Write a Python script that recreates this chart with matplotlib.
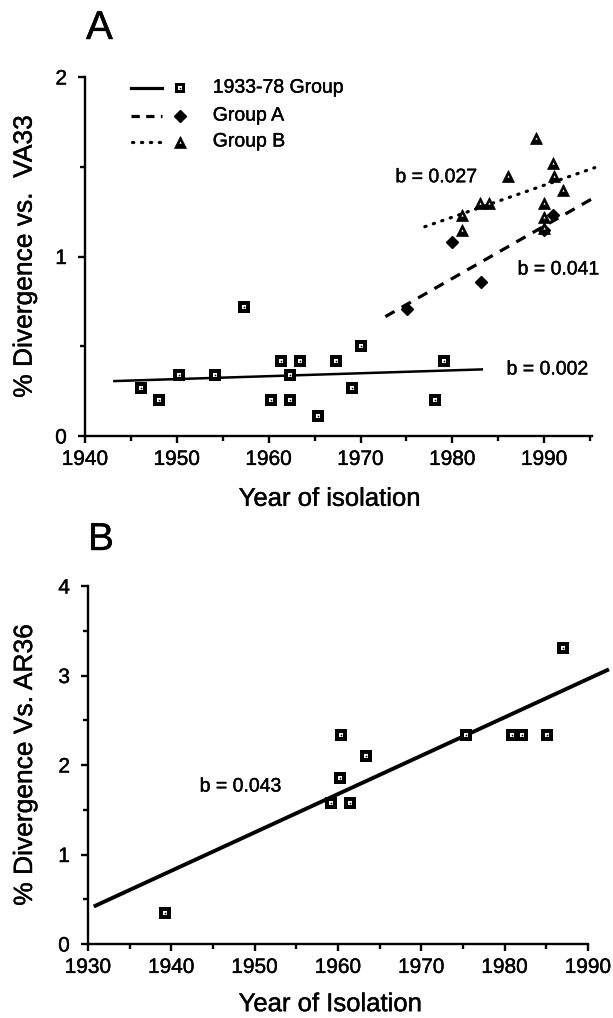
import matplotlib

matplotlib.use("Agg")
import matplotlib.pyplot as plt
import matplotlib.patheffects as pe
from matplotlib.ticker import MultipleLocator

# ---- panel A data ----
old_years = [1946.1, 1948.1, 1950.2, 1954.2, 1957.3, 1960.3, 1961.3, 1962.3, 1962.3,
             1963.4, 1965.4, 1967.3, 1969.1, 1970.1, 1978.1, 1979.1]
old_div = [0.27, 0.20, 0.34, 0.34, 0.72, 0.20, 0.42, 0.34, 0.20,
           0.42, 0.11, 0.42, 0.27, 0.50, 0.20, 0.42]
grpa_years = [1975.1, 1980.0, 1983.1, 1990.0, 1991.0]
grpa_div = [0.71, 1.08, 0.86, 1.15, 1.23]
grpb_years = [1981.1, 1981.1, 1983.0, 1984.0, 1986.0, 1989.1, 1990.0, 1990.0, 1990.0,
              1991.0, 1991.1, 1992.0]
grpb_div = [1.15, 1.23, 1.30, 1.30, 1.45, 1.66, 1.16, 1.22, 1.30, 1.52, 1.45, 1.37]

# fitted lines (end points)
fit_old_x, fit_old_y = [1943.2, 1983.2], [0.306, 0.371]
fit_a_x, fit_a_y = [1972.7, 1995.6], [0.665, 1.333]
fit_b_x, fit_b_y = [1977.0, 1995.5], [1.166, 1.495]

# ---- panel B data ----
ar_years = [1939.2, 1959.1, 1960.2, 1960.3, 1961.4, 1963.3, 1975.3, 1980.9, 1982.1,
            1985.1, 1987.0]
ar_div = [0.35, 1.58, 1.85, 2.33, 1.58, 2.10, 2.33, 2.33, 2.33, 2.33, 3.31]
fit_ar_x, fit_ar_y = [1930.9, 1992.3], [0.428, 3.06]

plt.rcParams["font.family"] = ["Liberation Sans", "DejaVu Sans"]
HEAVY = [pe.withStroke(linewidth=0.3, foreground="black")]

W, H = 613, 1018
fig = plt.figure(figsize=(W / 100, H / 100), dpi=100)


def box(x0, y0, x1, y1):
    # pixel box (top-left origin) -> figure fraction
    return [x0 / W, 1 - y1 / H, (x1 - x0) / W, (y1 - y0) / H]


def style_axes(ax):
    for s in ("top", "right"):
        ax.spines[s].set_visible(False)
    for s in ("left", "bottom"):
        ax.spines[s].set_linewidth(1.7)
    ax.tick_params(which="major", length=5, width=1.7, direction="out", labelsize=15)
    ax.tick_params(axis="x", which="major", pad=5)
    ax.tick_params(axis="y", which="major", pad=8)
    ax.tick_params(which="minor", length=3.5, width=1.7, direction="out")
    ax.xaxis.set_major_locator(MultipleLocator(10))
    ax.xaxis.set_minor_locator(MultipleLocator(5))
    ax.yaxis.set_major_locator(MultipleLocator(1))
    ax.yaxis.set_minor_locator(MultipleLocator(0.5))
    for lab in ax.get_xticklabels() + ax.get_yticklabels():
        lab.set_path_effects(HEAVY)


def squares(ax, x, y, ms, **kw):
    # black square, white ring, black centre
    ax.plot(x, y, ls="none", marker="s", ms=ms, mfc="black", mec="black", mew=0, zorder=4, **kw)
    ax.plot(x, y, ls="none", marker="s", ms=ms * 0.4, mfc="white", mec="white", mew=0, zorder=5, **kw)
    ax.plot(x, y, ls="none", marker="s", ms=ms * 0.14, mfc="black", mec="black", mew=0, zorder=6, **kw)


def triangles(ax, x, y, ms, **kw):
    ax.plot(x, y, ls="none", marker="^", ms=ms, mfc="black", mec="black", mew=0.5, zorder=4, **kw)
    ax.plot(x, y, ls="none", marker="^", ms=ms * 0.18, mfc="white", mec="white", mew=0, zorder=5, **kw)


DASH = (0, (3.3, 2.6))
DOT = (0, (0.4, 2.4))

# ---------------- panel A ----------------
axA = fig.add_axes(box(85, 77, 592, 436))
style_axes(axA)
axA.set_xlim(1940, 1995.2)
axA.set_ylim(0, 2)

axA.plot(fit_old_x, fit_old_y, color="black", lw=1.8, clip_on=False)
axA.plot(fit_a_x, fit_a_y, color="black", lw=2.3, ls=DASH, clip_on=False)
axA.plot(fit_b_x, fit_b_y, color="black", lw=2.3, ls=DOT, dash_capstyle="round",
         clip_on=False)

squares(axA, old_years, old_div, 8.0, clip_on=False)
axA.plot(grpa_years, grpa_div, ls="none", marker="D", ms=6.5, color="black", zorder=4)
triangles(axA, grpb_years, grpb_div, 9.2, clip_on=False)

# legend drawn by hand
leg_y = [0.969, 0.891, 0.819]
leg_text = ["1933-78 Group", "Group A", "Group B"]
tr = dict(transform=axA.transAxes, clip_on=False)
axA.plot([0.090, 0.151], [leg_y[0]] * 2, color="black", lw=2.3, **tr)
axA.plot([0.090, 0.151], [leg_y[1]] * 2, color="black", lw=2.3, ls=(0, (2.6, 2.0)), **tr)
axA.plot([0.092, 0.151], [leg_y[2]] * 2, color="black", lw=2.3, ls=DOT,
         dash_capstyle="round", **tr)
squares(axA, [0.187], [leg_y[0]], 7.4, **tr)
axA.plot([0.187], [leg_y[1]], marker="D", ms=6.5, color="black", **tr)
triangles(axA, [0.187], [leg_y[2]], 9.2, **tr)
for yy, label in zip(leg_y, leg_text):
    axA.text(0.252, yy, label, transform=axA.transAxes, va="center", ha="left",
             fontsize=14, path_effects=HEAVY)

axA.text(1973.8, 1.439, "b = 0.027", va="center", ha="left", fontsize=14, path_effects=HEAVY)
axA.text(1987.1, 0.925, "b = 0.041", va="center", ha="left", fontsize=14, path_effects=HEAVY)
axA.text(1985.9, 0.368, "b = 0.002", va="center", ha="left", fontsize=14, path_effects=HEAVY)

axA.set_xlabel("Year of isolation", fontsize=18.5, path_effects=HEAVY)
axA.set_ylabel("% Divergence vs.  VA33", fontsize=19, path_effects=HEAVY)
axA.xaxis.set_label_coords(0.483, -0.175)
axA.xaxis.label.set_va("center")
axA.yaxis.set_label_coords(-0.119, 0.5)
axA.yaxis.label.set_va("center")

fig.text(86 / W, 1 - 28 / H, "A", fontsize=29, va="center", ha="left", path_effects=HEAVY)

# ---------------- panel B ----------------
axB = fig.add_axes(box(88, 586, 588, 944))
style_axes(axB)
axB.set_xlim(1930, 1990)
axB.set_ylim(0, 4)

axB.plot(fit_ar_x, fit_ar_y, color="black", lw=2.8, clip_on=False)
squares(axB, ar_years, ar_div, 8.0, clip_on=False)

axB.text(1943.4, 1.754, "b = 0.043", va="center", ha="left", fontsize=14, path_effects=HEAVY)

axB.set_xlabel("Year of Isolation", fontsize=18.5, path_effects=HEAVY)
axB.set_ylabel("% Divergence Vs. AR36", fontsize=19, path_effects=HEAVY)
axB.xaxis.set_label_coords(0.485, -0.168)
axB.xaxis.label.set_va("center")
axB.yaxis.set_label_coords(-0.126, 0.5)
axB.yaxis.label.set_va("center")

fig.text(88 / W, 1 - 540 / H, "B", fontsize=28, va="center", ha="left", path_effects=HEAVY)

fig.savefig("out.png", dpi=100)
plt.close(fig)
